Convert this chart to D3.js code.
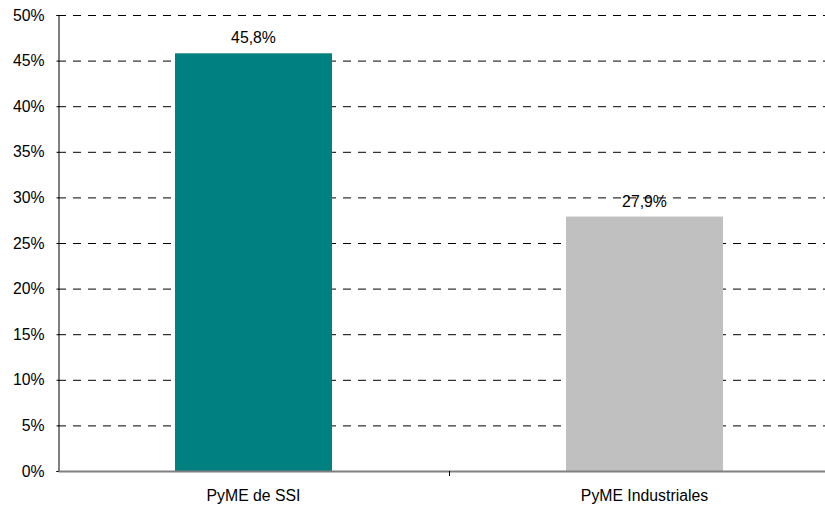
<!DOCTYPE html>
<html><head><meta charset="utf-8">
<script src="https://cdn.jsdelivr.net/npm/d3@7"></script>
<style>body{margin:0;background:#fff}svg{display:block;font-family:"Liberation Sans",Arial,sans-serif}</style>
</head><body>
<svg id="c" width="825" height="506"></svg>
<script>
const categories = ["PyME de SSI", "PyME Industriales"];
const values = [45.8, 27.9];
const valueLabels = ["45,8%", "27,9%"];
const barColors = ["#008080", "#C0C0C0"];
const yTicks = [0, 5, 10, 15, 20, 25, 30, 35, 40, 45, 50];

(function () {
const svg = d3.select("#c");
const mLeft = 58, mRight = 840, mTop = 15, mBottom = 471;
const fs = 15.8;
const x = d3.scaleBand().domain(categories).range([mLeft, mRight]).paddingInner(0).paddingOuter(0);
const y = d3.scaleLinear().domain([0, 50]).range([mBottom, mTop]);
const barW = 157;

// gridlines
svg.append("g").selectAll("line").data(yTicks.filter(d => d > 0)).join("line")
  .attr("x1", mLeft).attr("x2", mRight)
  .attr("y1", d => y(d) + 0.5).attr("y2", d => y(d) + 0.5)
  .attr("stroke", "#000").attr("stroke-width", 1).attr("stroke-dasharray", "8,7");

// bars
svg.append("g").selectAll("rect").data(values).join("rect")
  .attr("x", (d, i) => x(categories[i]) + x.bandwidth() / 2 - barW / 2)
  .attr("width", barW)
  .attr("y", d => y(d))
  .attr("height", d => mBottom - y(d))
  .attr("fill", (d, i) => barColors[i]);

// value labels
svg.append("g").selectAll("text").data(values).join("text")
  .attr("x", (d, i) => x(categories[i]) + x.bandwidth() / 2)
  .attr("y", d => y(d) - 10)
  .attr("text-anchor", "middle").attr("font-size", fs).attr("fill", "#000")
  .text((d, i) => valueLabels[i]);

// y axis
const ya = svg.append("g").attr("transform", `translate(${mLeft + 0.5},0)`)
  .call(d3.axisLeft(y).tickValues(yTicks).tickFormat(d => d + "%").tickSize(2).tickPadding(12));
ya.select(".domain").attr("stroke", "#000");
ya.selectAll(".tick line").attr("stroke", "#000");
ya.selectAll("text").attr("font-size", fs).attr("fill", "#000").attr("font-family", '"Liberation Sans",Arial,sans-serif');

// x axis
const xa = svg.append("g").attr("transform", `translate(0,${mBottom})`)
  .call(d3.axisBottom(x).tickSize(0).tickPadding(19));
xa.select(".domain").attr("stroke", "#808080").attr("stroke-width", 2);
xa.selectAll("text").attr("font-size", fs).attr("fill", "#000").attr("font-family", '"Liberation Sans",Arial,sans-serif');
// category separator tick
svg.append("line").attr("x1", mLeft + x.bandwidth() + 0.5).attr("x2", mLeft + x.bandwidth() + 0.5)
  .attr("y1", mBottom).attr("y2", mBottom + 5).attr("stroke", "#000");
})();
</script>
</body></html>
